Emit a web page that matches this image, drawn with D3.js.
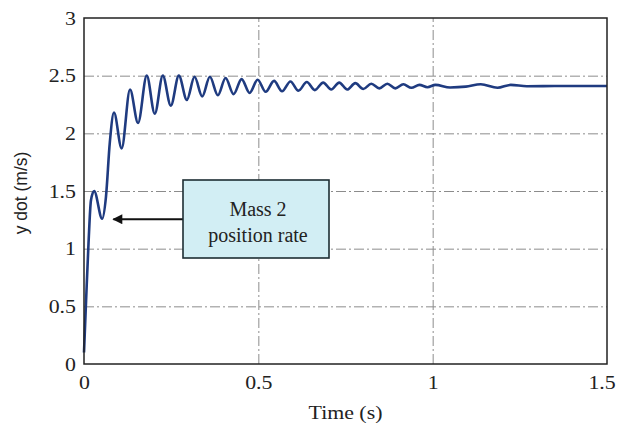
<!DOCTYPE html>
<html>
<head>
<meta charset="utf-8">
<script src="https://cdn.jsdelivr.net/npm/d3@7"></script>
<style>
  html, body { margin: 0; padding: 0; background: #fff; }
  svg { display: block; }
</style>
</head>
<body>
<svg id="chart" width="621" height="425"></svg>
<script>
// ---- data ----
const timeS = [0, 0.006, 0.013, 0.020, 0.029, 0.052, 0.063, 0.074, 0.086, 0.108,
  0.132, 0.155, 0.180, 0.203, 0.226, 0.249, 0.272, 0.295, 0.317, 0.339,
  0.361, 0.384, 0.406, 0.429, 0.452, 0.475, 0.498, 0.521, 0.545, 0.568,
  0.592, 0.615, 0.639, 0.662, 0.686, 0.709, 0.732, 0.755, 0.778, 0.801,
  0.824, 0.847, 0.870, 0.893, 0.916, 0.939, 0.962, 0.985, 1.008, 1.050,
  1.095, 1.138, 1.186, 1.224, 1.270, 1.350, 1.500];
const yDot = [0.10, 0.55, 1.05, 1.42, 1.50, 1.26, 1.45, 1.92, 2.18, 1.87,
  2.38, 2.09, 2.50, 2.17, 2.50, 2.24, 2.50, 2.29, 2.49, 2.32,
  2.49, 2.33, 2.48, 2.34, 2.47, 2.35, 2.465, 2.36, 2.455, 2.365,
  2.45, 2.37, 2.445, 2.375, 2.44, 2.38, 2.44, 2.38, 2.435, 2.385,
  2.43, 2.39, 2.43, 2.39, 2.425, 2.395, 2.42, 2.40, 2.42, 2.398,
  2.405, 2.425, 2.395, 2.42, 2.408, 2.41, 2.41];
const xTicks = [0, 0.5, 1, 1.5];
const xTickLabels = ["0", "0.5", "1", "1.5"];
const yTicks = [0, 0.5, 1, 1.5, 2, 2.5, 3];
const yTickLabels = ["0", "0.5", "1", "1.5", "2", "2.5", "3"];
const xLabel = "Time (s)";
const yLabel = "y dot (m/s)";
const noteLines = ["Mass 2", "position rate"];
const notePoint = [0.09, 1.255];

// ---- layout ----
const L = 84, T = 18, R = 607, B = 364;
const svg = d3.select("#chart");
const x = d3.scaleLinear().domain([0, 1.5]).range([L, R]);
const y = d3.scaleLinear().domain([0, 3]).range([B, T]);
const serif = "'Liberation Serif', 'Times New Roman', serif";
const sans = "'Liberation Sans', Arial, sans-serif";

// grid
const gridY = svg.append("g").attr("transform", `translate(${L},0)`)
  .call(d3.axisLeft(y).tickValues(yTicks.filter(v => v > 0 && v < 3)).tickSize(-(R - L)).tickFormat(""));
const gridX = svg.append("g").attr("transform", `translate(0,${B})`)
  .call(d3.axisBottom(x).tickValues(xTicks.filter(v => v > 0 && v < 1.5)).tickSize(-(B - T)).tickFormat(""));
[gridY, gridX].forEach(g => {
  g.select(".domain").remove();
  g.selectAll("line").attr("stroke", "#8c8c8c").attr("stroke-width", 1)
    .attr("stroke-dasharray", "10,3,2,3");
});

// curve
const pts = timeS.map((t, i) => [t, yDot[i]]);
svg.append("path").datum(pts)
  .attr("fill", "none").attr("stroke", "#1f3b80").attr("stroke-width", 2.6)
  .attr("stroke-linejoin", "round")
  .attr("d", d3.line().x(d => x(d[0])).y(d => y(d[1])).curve(d3.curveMonotoneX));

// frame
svg.append("rect").attr("x", L).attr("y", T).attr("width", R - L).attr("height", B - T)
  .attr("fill", "none").attr("stroke", "#222").attr("stroke-width", 1.5);

// axes labels
const ax = svg.append("g").attr("transform", `translate(${L},0)`)
  .call(d3.axisLeft(y).tickValues(yTicks).tickSize(0).tickPadding(7)
    .tickFormat((d, i) => yTickLabels[i]));
const bx = svg.append("g").attr("transform", `translate(0,${B})`)
  .call(d3.axisBottom(x).tickValues(xTicks).tickSize(0).tickPadding(12)
    .tickFormat((d, i) => xTickLabels[i]));
[ax, bx].forEach(g => {
  g.select(".domain").remove();
  g.selectAll("text").attr("font-family", serif).attr("font-size", 19)
    .attr("fill", "#222").attr("transform", "scale(1.15,1)");
});
bx.selectAll(".tick").filter(d => d === 1.5).select("text").attr("dx", "-0.25em");

svg.append("text").attr("transform", `translate(${(L + R) / 2},419) scale(1.15,1)`)
  .attr("text-anchor", "middle").attr("font-family", serif).attr("font-size", 19)
  .attr("fill", "#222").text(xLabel);
svg.append("text").attr("transform", `translate(27,${(T + B) / 2 + 2}) rotate(-90)`)
  .attr("text-anchor", "middle").attr("font-family", sans).attr("font-size", 17.5)
  .attr("fill", "#222").text(yLabel);

// annotation
const bx0 = 183, by0 = 180, bw = 146, bh = 78;
const arrowY = y(notePoint[1]);
svg.append("defs").append("marker").attr("id", "ah")
  .attr("viewBox", "0 0 10 10").attr("refX", 9).attr("refY", 5)
  .attr("markerWidth", 5.5).attr("markerHeight", 4.5).attr("markerUnits", "strokeWidth")
  .attr("orient", "auto")
  .append("path").attr("d", "M0,0 L10,5 L0,10 z").attr("fill", "#111");
svg.append("line").attr("x1", bx0).attr("y1", arrowY)
  .attr("x2", x(notePoint[0]) - 2).attr("y2", arrowY)
  .attr("stroke", "#111").attr("stroke-width", 2.2).attr("marker-end", "url(#ah)");
svg.append("rect").attr("x", bx0).attr("y", by0).attr("width", bw).attr("height", bh)
  .attr("fill", "#d2eef4").attr("stroke", "#1d2d33").attr("stroke-width", 1.6);
noteLines.forEach((s, i) => {
  svg.append("text").attr("x", bx0 + bw / 2 + 2).attr("y", by0 + 36 + i * 26)
    .attr("text-anchor", "middle").attr("font-family", serif).attr("font-size", 20)
    .attr("fill", "#222").text(s);
});
</script>
</body>
</html>
